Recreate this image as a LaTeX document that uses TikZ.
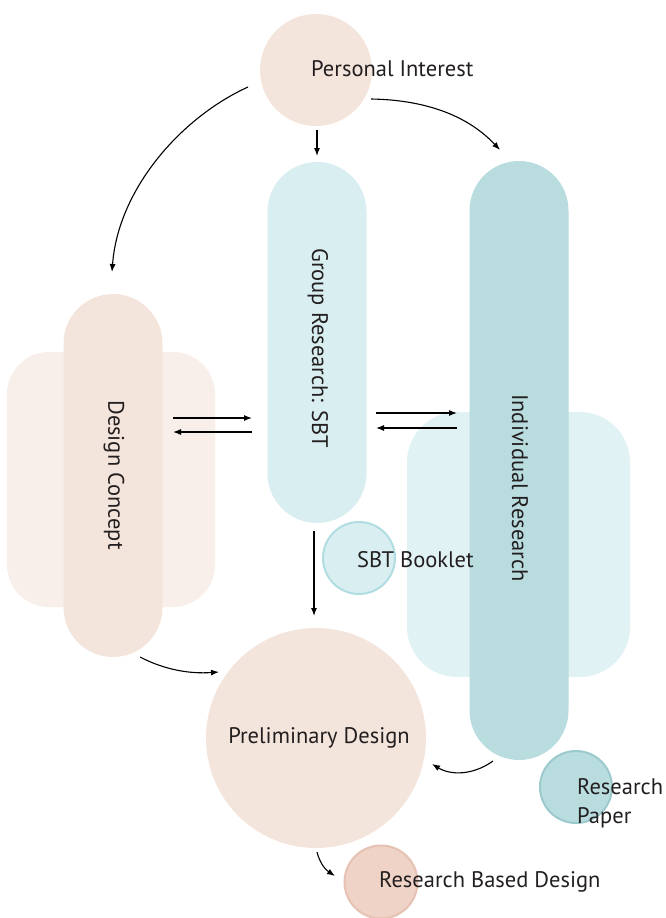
\documentclass[tikz,border=0pt]{standalone}
\usepackage{fontspec}
\setmainfont{PT Sans}
\usetikzlibrary{arrows.meta}
\definecolor{txt}{HTML}{231F20}
\definecolor{peach}{HTML}{F4E5DC}
\definecolor{peachbg}{HTML}{F8EEEA}
\definecolor{cyanpill}{HTML}{D9EEF0}
\definecolor{tealpill}{HTML}{B9DCDF}
\definecolor{tealbg}{HTML}{E0F2F4}
\definecolor{rbdfill}{HTML}{EFD3C6}
\definecolor{rbdline}{HTML}{E5C2B2}
\definecolor{rpline}{HTML}{9CC9CC}
\definecolor{sbtline}{HTML}{B0DDE1}
\tikzset{
  shapebox/.style={rectangle, inner sep=0pt, outer sep=0pt, draw=none},
  pillbox/.style={shapebox, rounded corners=49.5pt, minimum width=99pt},
  circ/.style={circle, inner sep=0pt, outer sep=0pt},
  lbl/.style={text=txt, font=\fontsize{22.5}{29}\selectfont, inner sep=0pt},
  conn/.style={line width=1.1pt, -{Latex[length=8pt,width=6pt]}},
}
\begin{document}
\begin{tikzpicture}[x=1pt,y=-1pt]
\useasboundingbox (0,0) rectangle (666,918);
% backgrounds
\node[shapebox, fill=peachbg, rounded corners=42pt, minimum width=208pt, minimum height=255pt] (dcbg) at (111,479.5) {};
\node[shapebox, fill=tealbg, rounded corners=50pt, minimum width=223pt, minimum height=265pt] (irbg) at (518.5,544.5) {};
% pills
\node[pillbox, fill=peach, minimum height=363pt] (dc) at (113,475.5) {};
\node[pillbox, fill=cyanpill, minimum height=361pt] (grp) at (317,342.5) {};
\node[pillbox, fill=tealpill, minimum height=599pt] (ir) at (519,460.5) {};
% circles
\node[circ, fill=peach, minimum size=112pt] (pi) at (316,70) {};
\node[circ, fill=peach, minimum size=220pt] (pd) at (316,738) {};
\node[circ, fill=cyanpill, draw=sbtline, line width=2pt, minimum size=72pt] (sbt) at (359,558) {};
\node[circ, fill=tealpill, draw=rpline, line width=2pt, minimum size=72pt] (rp) at (576,787) {};
\node[circ, fill=rbdfill, draw=rbdline, line width=2pt, minimum size=73pt] (rbd) at (381,882) {};
% labels
\node[lbl, anchor=west] (piL) at (311,69) {Personal Interest};
\node[lbl, rotate=-90] (grpL) at (318,348) {Group Research: SBT};
\node[lbl, rotate=-90] (dcL) at (114,475) {Design Concept};
\node[lbl, rotate=-90] (irL) at (520,488) {Individual Research};
\node[lbl, anchor=west] (sbtL) at (357,560) {SBT Booklet};
\node[lbl, anchor=west, align=left] (rpL) at (577,803) {Research\\Paper};
\node[lbl] (pdL) at (319,738) {Preliminary Design};
\node[lbl, anchor=west] (rbdL) at (379,882) {Research Based Design};
% connector ends
\coordinate (a1) at (248,87);  \coordinate (a2) at (112,272);
\coordinate (b1) at (317,130); \coordinate (b2) at (317,156);
\coordinate (c1) at (371,99);  \coordinate (c2) at (500,150);
\coordinate (d1) at (173,418); \coordinate (d2) at (252,418);
\coordinate (e1) at (252,432); \coordinate (e2) at (173,432);
\coordinate (f1) at (376,413); \coordinate (f2) at (457,413);
\coordinate (g1) at (457,428); \coordinate (g2) at (376,428);
\coordinate (h1) at (314,531); \coordinate (h2) at (314,616);
\coordinate (i1) at (140,657); \coordinate (i2) at (219,672);
\coordinate (j1) at (493,761); \coordinate (j2) at (432,764);
\coordinate (k1) at (317,852); \coordinate (k2) at (335,876);
% connectors
\draw[conn] (a1) .. controls (180,118) and (118,190) .. (a2);
\draw[conn] (b1) -- (b2);
\draw[conn] (c1) .. controls (430,100) and (470,118) .. (c2);
\draw[conn] (d1) -- (d2);
\draw[conn] (e1) -- (e2);
\draw[conn] (f1) -- (f2);
\draw[conn] (g1) -- (g2);
\draw[conn] (h1) -- (h2);
\draw[conn] (i1) .. controls (165,670) and (190,674) .. (i2);
\draw[conn] (j1) .. controls (472,776) and (450,775) .. (j2);
\draw[conn] (k1) .. controls (320,864) and (326,870) .. (k2);
\end{tikzpicture}
\end{document}
